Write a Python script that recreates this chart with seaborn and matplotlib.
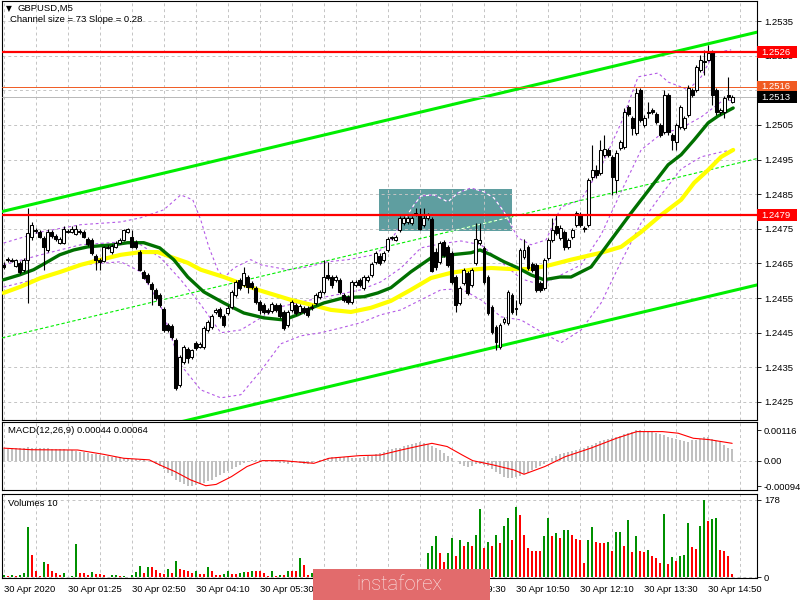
import numpy as np
import matplotlib
matplotlib.use("Agg")
import matplotlib.pyplot as plt
import seaborn as sns
from matplotlib.patches import Rectangle
from matplotlib.transforms import blended_transform_factory

# ---------------- data (GBPUSD, M5, 30 Apr 2020) ----------------
open_price = [
    1.24646, 1.24661, 1.24661, 1.24643, 1.24652, 1.24632, 1.24661, 1.24727, 1.24747, 1.24741,
    1.24724, 1.24689, 1.24741, 1.24730, 1.24710, 1.24710, 1.24744, 1.24741, 1.24736, 1.24744,
    1.24741, 1.24721, 1.24718, 1.24672, 1.24661, 1.24658, 1.24695, 1.24683, 1.24698, 1.24710,
    1.24718, 1.24741, 1.24727, 1.24712, 1.24683, 1.24626, 1.24617, 1.24591, 1.24574, 1.24559,
    1.24519, 1.24473, 1.24470, 1.24430, 1.24299, 1.24366, 1.24404, 1.24380, 1.24421, 1.24409,
    1.24409, 1.24458, 1.24467, 1.24510, 1.24519, 1.24499, 1.24508, 1.24525, 1.24559, 1.24603,
    1.24588, 1.24611, 1.24594, 1.24580, 1.24539, 1.24531, 1.24516, 1.24513, 1.24531, 1.24531,
    1.24510, 1.24473, 1.24516, 1.24531, 1.24510, 1.24522, 1.24522, 1.24522, 1.24536, 1.24554,
    1.24568, 1.24617, 1.24611, 1.24603, 1.24603, 1.24559, 1.24554, 1.24539, 1.24588, 1.24603,
    1.24580, 1.24603, 1.24617, 1.24655, 1.24672, 1.24661, 1.24689, 1.24727, 1.24718, 1.24747,
    1.24767, 1.24770, 1.24767, 1.24790, 1.24790, 1.24762, 1.24782, 1.24779, 1.24683, 1.24655,
    1.24712, 1.24698, 1.24681, 1.24611, 1.24536, 1.24594, 1.24623, 1.24588, 1.24652, 1.24710,
    1.24695, 1.24611, 1.24525, 1.24467, 1.24409, 1.24482, 1.24479, 1.24559, 1.24522, 1.24536,
    1.24669, 1.24698, 1.24649, 1.24646, 1.24594, 1.24580, 1.24666, 1.24718, 1.24759, 1.24724,
    1.24741, 1.24698, 1.24727, 1.24762, 1.24790, 1.24753, 1.24762, 1.24900, 1.24920, 1.24912,
    1.24964, 1.24978, 1.24958, 1.24891, 1.24984, 1.24987, 1.25102, 1.25070, 1.25027, 1.25151,
    1.25050, 1.25088, 1.25093, 1.25082, 1.25050, 1.25030, 1.25137, 1.25021, 1.25001, 1.25044,
    1.25041, 1.25079, 1.25151, 1.25151, 1.25209, 1.25235, 1.25238, 1.25261, 1.25151, 1.25088,
    1.25088, 1.25137, 1.25116]
close_price = [
    1.24640, 1.24664, 1.24658, 1.24661, 1.24626, 1.24661, 1.24739, 1.24762, 1.24744, 1.24727,
    1.24698, 1.24741, 1.24730, 1.24721, 1.24721, 1.24750, 1.24741, 1.24750, 1.24750, 1.24741,
    1.24727, 1.24707, 1.24681, 1.24661, 1.24655, 1.24698, 1.24698, 1.24701, 1.24710, 1.24718,
    1.24747, 1.24750, 1.24698, 1.24698, 1.24632, 1.24609, 1.24597, 1.24577, 1.24551, 1.24531,
    1.24458, 1.24458, 1.24438, 1.24291, 1.24380, 1.24409, 1.24378, 1.24401, 1.24407, 1.24418,
    1.24464, 1.24482, 1.24499, 1.24516, 1.24499, 1.24473, 1.24522, 1.24568, 1.24597, 1.24580,
    1.24623, 1.24583, 1.24583, 1.24539, 1.24516, 1.24510, 1.24510, 1.24533, 1.24516, 1.24499,
    1.24464, 1.24510, 1.24539, 1.24508, 1.24528, 1.24510, 1.24502, 1.24525, 1.24559, 1.24568,
    1.24611, 1.24609, 1.24588, 1.24611, 1.24568, 1.24545, 1.24539, 1.24597, 1.24597, 1.24588,
    1.24611, 1.24611, 1.24649, 1.24681, 1.24652, 1.24681, 1.24721, 1.24724, 1.24727, 1.24782,
    1.24782, 1.24782, 1.24782, 1.24796, 1.24750, 1.24782, 1.24790, 1.24629, 1.24640, 1.24710,
    1.24675, 1.24646, 1.24597, 1.24531, 1.24580, 1.24632, 1.24565, 1.24632, 1.24721, 1.24718,
    1.24597, 1.24508, 1.24452, 1.24424, 1.24473, 1.24490, 1.24568, 1.24510, 1.24519, 1.24689,
    1.24689, 1.24638, 1.24632, 1.24574, 1.24574, 1.24661, 1.24718, 1.24747, 1.24739, 1.24753,
    1.24698, 1.24718, 1.24747, 1.24796, 1.24762, 1.24750, 1.24891, 1.24920, 1.24906, 1.24978,
    1.24981, 1.24964, 1.24900, 1.24969, 1.25001, 1.25088, 1.25082, 1.25041, 1.25142, 1.25065,
    1.25070, 1.25085, 1.25088, 1.25059, 1.25021, 1.25137, 1.25030, 1.25007, 1.25050, 1.25102,
    1.25070, 1.25157, 1.25137, 1.25217, 1.25238, 1.25232, 1.25258, 1.25137, 1.25088, 1.25093,
    1.25128, 1.25131, 1.25131]
high_price = [
    1.24655, 1.24669, 1.24666, 1.24664, 1.24658, 1.24666, 1.24811, 1.24770, 1.24753, 1.24747,
    1.24730, 1.24750, 1.24747, 1.24736, 1.24727, 1.24759, 1.24750, 1.24759, 1.24762, 1.24750,
    1.24747, 1.24727, 1.24724, 1.24678, 1.24666, 1.24701, 1.24704, 1.24707, 1.24715, 1.24724,
    1.24750, 1.24753, 1.24747, 1.24718, 1.24689, 1.24632, 1.24623, 1.24597, 1.24580, 1.24565,
    1.24525, 1.24479, 1.24476, 1.24435, 1.24386, 1.24415, 1.24409, 1.24404, 1.24427, 1.24424,
    1.24470, 1.24487, 1.24505, 1.24522, 1.24525, 1.24505, 1.24531, 1.24574, 1.24603, 1.24609,
    1.24640, 1.24617, 1.24600, 1.24586, 1.24545, 1.24536, 1.24522, 1.24539, 1.24536, 1.24536,
    1.24516, 1.24516, 1.24545, 1.24536, 1.24533, 1.24528, 1.24528, 1.24533, 1.24565, 1.24574,
    1.24661, 1.24655, 1.24617, 1.24617, 1.24609, 1.24565, 1.24559, 1.24603, 1.24603, 1.24609,
    1.24617, 1.24617, 1.24655, 1.24687, 1.24681, 1.24687, 1.24727, 1.24730, 1.24733, 1.24787,
    1.24787, 1.24787, 1.24787, 1.24811, 1.24811, 1.24811, 1.24796, 1.24785, 1.24695, 1.24715,
    1.24718, 1.24704, 1.24687, 1.24617, 1.24586, 1.24638, 1.24629, 1.24638, 1.24767, 1.24767,
    1.24701, 1.24617, 1.24531, 1.24473, 1.24479, 1.24496, 1.24574, 1.24565, 1.24545, 1.24695,
    1.24721, 1.24704, 1.24655, 1.24652, 1.24600, 1.24666, 1.24724, 1.24782, 1.24790, 1.24762,
    1.24747, 1.24724, 1.24753, 1.24802, 1.24799, 1.24759, 1.24897, 1.24992, 1.24935, 1.25007,
    1.25021, 1.24984, 1.24964, 1.24978, 1.25007, 1.25099, 1.25108, 1.25076, 1.25157, 1.25157,
    1.25079, 1.25116, 1.25099, 1.25088, 1.25056, 1.25151, 1.25142, 1.25027, 1.25056, 1.25108,
    1.25076, 1.25166, 1.25157, 1.25223, 1.25252, 1.25267, 1.25281, 1.25267, 1.25157, 1.25099,
    1.25134, 1.25189, 1.25137]
low_price = [
    1.24634, 1.24655, 1.24655, 1.24640, 1.24620, 1.24626, 1.24536, 1.24718, 1.24739, 1.24724,
    1.24632, 1.24683, 1.24724, 1.24715, 1.24707, 1.24707, 1.24739, 1.24739, 1.24733, 1.24736,
    1.24724, 1.24701, 1.24675, 1.24632, 1.24632, 1.24655, 1.24692, 1.24678, 1.24695, 1.24707,
    1.24715, 1.24739, 1.24695, 1.24692, 1.24629, 1.24606, 1.24591, 1.24531, 1.24545, 1.24525,
    1.24452, 1.24452, 1.24432, 1.24285, 1.24293, 1.24360, 1.24363, 1.24375, 1.24401, 1.24407,
    1.24404, 1.24452, 1.24461, 1.24505, 1.24493, 1.24467, 1.24502, 1.24519, 1.24554, 1.24574,
    1.24583, 1.24565, 1.24577, 1.24533, 1.24505, 1.24505, 1.24505, 1.24508, 1.24510, 1.24493,
    1.24458, 1.24467, 1.24510, 1.24502, 1.24505, 1.24505, 1.24496, 1.24516, 1.24531, 1.24548,
    1.24562, 1.24603, 1.24580, 1.24597, 1.24562, 1.24539, 1.24533, 1.24533, 1.24583, 1.24583,
    1.24574, 1.24597, 1.24611, 1.24649, 1.24646, 1.24655, 1.24683, 1.24718, 1.24715, 1.24741,
    1.24762, 1.24764, 1.24762, 1.24787, 1.24747, 1.24756, 1.24776, 1.24626, 1.24632, 1.24649,
    1.24669, 1.24640, 1.24591, 1.24510, 1.24531, 1.24588, 1.24559, 1.24583, 1.24646, 1.24704,
    1.24591, 1.24502, 1.24447, 1.24401, 1.24404, 1.24476, 1.24473, 1.24505, 1.24502, 1.24531,
    1.24664, 1.24632, 1.24626, 1.24568, 1.24568, 1.24574, 1.24661, 1.24712, 1.24733, 1.24718,
    1.24689, 1.24692, 1.24721, 1.24756, 1.24756, 1.24741, 1.24756, 1.24891, 1.24897, 1.24906,
    1.24958, 1.24958, 1.24848, 1.24854, 1.24978, 1.24981, 1.25076, 1.25021, 1.25021, 1.25059,
    1.25044, 1.25070, 1.25082, 1.25053, 1.25015, 1.25024, 1.25021, 1.24978, 1.24978, 1.25038,
    1.25036, 1.25073, 1.25131, 1.25145, 1.25203, 1.25194, 1.25235, 1.25108, 1.25079, 1.25079,
    1.25070, 1.25122, 1.25113]

volumes = [
    5, 3, 5, 3, 5, 9, 115, 52, 15, 2, 34, 31, 13, 9, 5, 9, 1, 2, 77, 9,
    9, 5, 12, 8, 8, 5, 1, 4, 5, 2, 3, 1, 4, 12, 25, 9, 22, 22, 17, 9,
    8, 19, 9, 38, 18, 17, 13, 9, 13, 8, 8, 23, 13, 5, 5, 7, 13, 8, 8, 9,
    11, 11, 13, 13, 13, 9, 3, 13, 3, 5, 5, 13, 13, 13, 44, 28, 5,
    9, 12, 8, 16, 12, 10, 8, 11, 9, 10, 14, 9, 8, 12, 10, 15, 13, 9, 11, 14,
    8, 12, 16, 10, 9, 14, 17, 12, 15,
    55, 71, 94, 55, 34, 55, 90, 48, 86, 71, 80, 71, 98, 158, 67, 82, 72, 98, 79, 117,
    136, 86, 162, 144, 98, 67, 59, 59, 59, 95, 136, 95, 102, 90, 108, 109, 98, 88, 86, 32,
    86, 115, 82, 79, 79, 82, 59, 104, 105, 72, 131, 57, 94, 59, 57, 63, 48, 44, 32, 146,
    31, 46, 36, 48, 52, 125, 69, 65, 119, 178, 129, 134, 137, 63, 59, 49, 8]

macd_main = [
    0.00045, 0.00046, 0.00048, 0.00049, 0.00050, 0.00050, 0.00052, 0.00050, 0.00050, 0.00049,
    0.00048, 0.00047, 0.00046, 0.00046, 0.00045, 0.00043, 0.00042, 0.00040, 0.00037, 0.00035,
    0.00032, 0.00030, 0.00027, 0.00025, 0.00022, 0.00020, 0.00018, 0.00016, 0.00015, 0.00013,
    0.00011, 0.00010, 0.00008, 0.00007, 0.00005, 0.00003, 0.00001, -0.00005, -0.00012, -0.00020,
    -0.00032, -0.00045, -0.00057, -0.00070, -0.00080, -0.00088, -0.00094, -0.00093, -0.00090, -0.00087,
    -0.00082, -0.00077, -0.00070, -0.00060, -0.00053, -0.00045, -0.00037, -0.00030, -0.00022, -0.00015,
    -0.00008, -0.00003, 0.00002, 0.00005, 0.00004, 0.00002, 0.00000, -0.00002, -0.00004, -0.00006,
    -0.00009, -0.00010, -0.00007, -0.00005, -0.00007, -0.00010, -0.00010, -0.00006, -0.00002, 0.00003,
    0.00008, 0.00010, 0.00013, 0.00015, 0.00015, 0.00014, 0.00014, 0.00012, 0.00011, 0.00010,
    0.00013, 0.00017, 0.00020, 0.00025, 0.00030, 0.00034, 0.00040, 0.00043, 0.00047, 0.00050,
    0.00055, 0.00060, 0.00063, 0.00066, 0.00070, 0.00068, 0.00062, 0.00057, 0.00048, 0.00040,
    0.00030, 0.00020, 0.00010, 0.00000, -0.00012, -0.00020, -0.00022, -0.00020, -0.00012, -0.00010,
    -0.00015, -0.00020, -0.00030, -0.00040, -0.00050, -0.00060, -0.00063, -0.00065, -0.00060, -0.00055,
    -0.00050, -0.00045, -0.00035, -0.00028, -0.00020, -0.00010, 0.00000, 0.00010, 0.00020, 0.00025,
    0.00030, 0.00033, 0.00037, 0.00040, 0.00043, 0.00048, 0.00055, 0.00060, 0.00068, 0.00073,
    0.00080, 0.00083, 0.00087, 0.00090, 0.00095, 0.00100, 0.00105, 0.00110, 0.00115, 0.00116,
    0.00114, 0.00112, 0.00110, 0.00104, 0.00100, 0.00096, 0.00090, 0.00087, 0.00082, 0.00078,
    0.00074, 0.00072, 0.00077, 0.00080, 0.00083, 0.00088, 0.00090, 0.00082, 0.00075, 0.00070,
    0.00058, 0.00050, 0.00044]

signal_bars = [0, 7, 18.5, 24.9, 30, 36.4, 39, 42.8, 46.7, 50.5,
               53.1, 56.9, 60.8, 64.6, 69.8, 77.5, 81.3, 89, 94.1, 99.3,
               104.4, 107, 110.8, 114.6, 117.2, 122.3, 127.5, 130, 135.2, 140.3,
               146.7, 153.1, 158.2, 164.6, 168.5, 172.3, 176.2, 182]
signal_vals = [0.00048, 0.00042, 0.00041, 0.00025, 0.00010, 0.00004, -0.00015, -0.00040, -0.00071, -0.00093,
               -0.00088, -0.00059, -0.00021, 0.00001, 0.00001, -0.00009, 0.00010, 0.00020, 0.00022, 0.00041,
               0.00058, 0.00066, 0.00054, 0.00022, 0.00001, -0.00015, -0.00034, -0.00050, -0.00021, 0.00016,
               0.00048, 0.00085, 0.00110, 0.00110, 0.00104, 0.00085, 0.00080, 0.00066]

ma_green_bars = [0, 4, 7.5, 11, 14, 17.5, 21, 24, 27.5, 31,
                 35, 39, 42.5, 46, 50, 55, 60, 65, 70, 73.5,
                 77, 80, 85, 90, 93.5, 96.75, 101.75, 106.75, 111.75, 116.75,
                 119, 121.75, 125, 128.5, 131.75, 135, 139, 141.75, 146.75, 151.75,
                 156.75, 161.75, 166, 169.25, 172.5, 176, 178.5, 182.25]
ma_green_vals = [1.24603, 1.24617, 1.24632, 1.24655, 1.24675, 1.24689, 1.24698, 1.24701, 1.24704, 1.24710,
                 1.24710, 1.24695, 1.24661, 1.24611, 1.24568, 1.24536, 1.24507, 1.24493, 1.24487, 1.24502,
                 1.24522, 1.24536, 1.24551, 1.24554, 1.24565, 1.24580, 1.24626, 1.24666, 1.24675, 1.24681,
                 1.24689, 1.24675, 1.24655, 1.24637, 1.24617, 1.24603, 1.24611, 1.24611, 1.24640, 1.24718,
                 1.24796, 1.24871, 1.24935, 1.24964, 1.25007, 1.25056, 1.25076, 1.25099]

ma_yellow_bars = [0, 4.25, 9.25, 14.25, 19.25, 24.25, 29.25, 34.25, 38.5, 41.75,
                  46, 49.25, 55, 63.5, 71.75, 76.75, 81.75, 86.75, 91.75, 96.75,
                  101.75, 106.75, 111.75, 116.75, 121.75, 126.75, 131.75, 136.75, 141.75, 149.25,
                  154.25, 159.25, 164.25, 169.25, 172.5, 176, 179.25, 182.25]
ma_yellow_vals = [1.24565, 1.24583, 1.24608, 1.24626, 1.24646, 1.24661, 1.24675, 1.24683, 1.24683, 1.24669,
                  1.24652, 1.24632, 1.24611, 1.24574, 1.24545, 1.24531, 1.24516, 1.24510, 1.24522, 1.24542,
                  1.24574, 1.24608, 1.24623, 1.24632, 1.24637, 1.24634, 1.24634, 1.24646, 1.24661, 1.24681,
                  1.24698, 1.24741, 1.24790, 1.24834, 1.24883, 1.24920, 1.24958, 1.24978]

bb_upper_bars = [0, 9.25, 19.25, 29.25, 34.25, 40, 44.25, 47.25, 49.25, 51.25,
                 53.5, 55, 57.5, 61.75, 64.25, 71, 76, 81, 86, 92.5,
                 96, 99.25, 102.5, 104.25, 107.5, 111, 113.5, 116.75, 120, 122.5,
                 125, 128.5, 131.75, 135.5, 139.25, 144.25, 149.25, 154.25, 158.5, 163.5,
                 166, 169.25, 171, 174.25, 177.5, 181.75]
bb_upper_vals = [1.24709, 1.24741, 1.24762, 1.24770, 1.24782, 1.24805, 1.24848, 1.24834, 1.24776, 1.24698,
                 1.24632, 1.24608, 1.24637, 1.24661, 1.24646, 1.24632, 1.24640, 1.24655, 1.24661, 1.24675,
                 1.24704, 1.24762, 1.24819, 1.24845, 1.24848, 1.24828, 1.24854, 1.24868, 1.24857, 1.24839,
                 1.24799, 1.24724, 1.24704, 1.24718, 1.24813, 1.24834, 1.24929, 1.25056, 1.25189, 1.25200,
                 1.25174, 1.25160, 1.25151, 1.25189, 1.25258, 1.25267]

bb_bars = [0, 9.25, 19.25, 29.25, 34.25, 39.25, 44.25, 49.25, 54.25, 59.25,
           64.25, 69.25, 74.25, 79.25, 84.25, 89.25, 94.25, 99.25, 104.25, 109.25,
           114.25, 119.25, 124.25, 129.25, 134.25, 139.25, 144.25, 149.25, 154.25, 159.25,
           164.25, 169.25, 174.25, 179.25, 182.25]
bb_middle_vals = [1.24646, 1.24675, 1.24704, 1.24712, 1.24704, 1.24666, 1.24603, 1.24531, 1.24450, 1.24458,
                  1.24493, 1.24525, 1.24539, 1.24551, 1.24562, 1.24574, 1.24597, 1.24637, 1.24695, 1.24707,
                  1.24715, 1.24704, 1.24655, 1.24606, 1.24588, 1.24617, 1.24646, 1.24733, 1.24857, 1.24978,
                  1.25024, 1.25041, 1.25073, 1.25117, 1.25122]
bb_lower_vals = [1.24582, 1.24608, 1.24646, 1.24655, 1.24626, 1.24528, 1.24357, 1.24285, 1.24262, 1.24271,
                 1.24340, 1.24418, 1.24441, 1.24450, 1.24464, 1.24479, 1.24502, 1.24516, 1.24545, 1.24574,
                 1.24577, 1.24545, 1.24496, 1.24487, 1.24453, 1.24421, 1.24458, 1.24536, 1.24655, 1.24767,
                 1.24848, 1.24923, 1.24958, 1.24972, 1.24978]

channel_bars = [-0.4, 188.2]
channel_upper = [1.24800, 1.25318]
channel_size = 0.0073          # "Channel size = 73"

zone_bars = [93.75, 127.0]
zone_prices = [1.24744, 1.24865]

level_lines = [1.2526, 1.2479]
ask_price = 1.2516
bid_price = 1.2513

price_ticks = [1.2425, 1.2435, 1.2445, 1.2455, 1.2465, 1.2475, 1.2485, 1.2495, 1.2505, 1.2515, 1.2525, 1.2535]
hidden_price_ticks = [1.2515]   # covered by the ask/bid boxes in the reference
macd_ticks = [-0.00094, 0.0, 0.00116]
macd_tick_labels = ["-0.00094", "0.00", "0.00116"]
volume_ticks = [0, 178]
time_tick_bars = [0, 16, 32, 48, 64, 80, 96, 112, 128, 144, 160, 176]
time_labels = ["30 Apr 2020", "30 Apr 01:25", "30 Apr 02:50", "30 Apr 04:10", "30 Apr 05:30",
               "", "", "30 Apr 09:30", "30 Apr 10:50", "30 Apr 12:10",
               "30 Apr 13:30", "30 Apr 14:50"]   # 06:50 and 08:10 sit under the watermark

# ---------------- style ----------------
sns.set_theme(style="white")
plt.rcParams['font.family'] = ['Liberation Sans', 'DejaVu Sans']
FS = 6.8
GRID = dict(color='#c4c4c4', linestyle=(0, (3, 3)), linewidth=0.7)
XLIM = (-0.4, 188.2)

fig = plt.figure(figsize=(8, 6), dpi=100)
fig.patch.set_facecolor('white')
ax = fig.add_axes([2 / 800, 1 - 420 / 600, 755 / 800, 419 / 600])
axm = fig.add_axes([2 / 800, 1 - 490 / 600, 755 / 800, 68 / 600])
axv = fig.add_axes([2 / 800, 1 - 578 / 600, 755 / 800, 84 / 600])

for a in (ax, axm, axv):
    a.set_facecolor('white')
    for s in a.spines.values():
        s.set_color('black')
        s.set_linewidth(0.8)
    a.set_xlim(*XLIM)
    a.yaxis.tick_right()
    a.tick_params(axis='y', length=3, width=0.6, pad=2, labelsize=FS, colors='black', direction='out')
    a.set_axisbelow(True)

x = np.arange(len(close_price))
o = np.array(open_price); c = np.array(close_price)
h = np.array(high_price); l = np.array(low_price)

# ---------------- main price panel ----------------
ax.set_ylim(1.24198, 1.25408)
ax.set_yticks(price_ticks)
ax.set_yticklabels(["" if t in hidden_price_ticks else f"{t:.4f}" for t in price_ticks])
ax.set_xticks(np.arange(0, 189, 8))
ax.tick_params(axis='x', length=0, labelbottom=False)
ax.grid(True, **GRID)

zone = Rectangle((zone_bars[0], zone_prices[0]), zone_bars[1] - zone_bars[0],
                 zone_prices[1] - zone_prices[0], facecolor='#5f9ea0', edgecolor='none', zorder=0.2)
ax.add_patch(zone)

# regression channel
ch_up = np.array(channel_upper)
for vals, lw, ls in ((ch_up, 2.2, '-'), (ch_up - channel_size, 2.2, '-'),
                     (ch_up - channel_size / 2, 0.8, (0, (3, 2)))):
    sns.lineplot(x=channel_bars, y=vals, ax=ax, color='#00ee00', linewidth=lw,
                 linestyle=ls, estimator=None, sort=False, legend=False, zorder=2.7)
    if ls != '-':
        sns.lineplot(x=channel_bars, y=vals, ax=ax, color='white', linewidth=lw,
                     linestyle=ls, estimator=None, sort=False, legend=False, zorder=2.75)
        ax.lines[-1].set_clip_path(zone)

# Bollinger bands
for bx, by in ((bb_upper_bars, bb_upper_vals), (bb_bars, bb_middle_vals), (bb_bars, bb_lower_vals)):
    sns.lineplot(x=bx, y=by, ax=ax, color='#b45ae6', linewidth=0.8, linestyle=(0, (2.5, 2.5)),
                 estimator=None, sort=False, legend=False, zorder=2.6)
    sns.lineplot(x=bx, y=by, ax=ax, color='white', linewidth=0.9, linestyle=(0, (2.5, 2.5)),
                 estimator=None, sort=False, legend=False, zorder=2.65)
    ax.lines[-1].set_clip_path(zone)

# moving averages
sns.lineplot(x=ma_yellow_bars, y=ma_yellow_vals, ax=ax, color='#ffff00', linewidth=3.0,
             estimator=None, sort=False, legend=False, zorder=3)
sns.lineplot(x=ma_green_bars, y=ma_green_vals, ax=ax, color='#007000', linewidth=2.4,
             estimator=None, sort=False, legend=False, zorder=3.1)

# ask / bid lines
ax.axhline(ask_price, color='#f05a22', linewidth=0.7, zorder=3.2)
ax.axhline(bid_price, color='#b8b8b8', linewidth=0.7, zorder=3.2)

# candles
up = c >= o
ax.vlines(x, l, h, color='black', linewidth=0.8, zorder=4)
ax.bar(x, np.maximum(np.abs(c - o), 0.000004), bottom=np.minimum(o, c), width=0.74,
       color=np.where(up, 'white', 'black'), edgecolor='black', linewidth=0.75, zorder=5)

# horizontal levels
for lv in level_lines:
    ax.axhline(lv, color='#ff0000', linewidth=1.6, zorder=6)

ax.set_xlabel(''); ax.set_ylabel('')

# right-side price boxes
tr = blended_transform_factory(ax.transAxes, ax.transData)
hh = 0.000172
for price, col in ((level_lines[0], '#ff0000'), (level_lines[1], '#ff0000'),
                   (ask_price, '#f05a22'), (bid_price, '#000000')):
    ax.add_patch(Rectangle((1.0, price - hh), 0.053, 2 * hh, transform=tr, facecolor=col,
                           edgecolor='none', clip_on=False, zorder=10))
    ax.text(1.0 + 4 / 755, price, f"{price:.4f}", transform=tr, ha='left', va='center',
            color='white', fontsize=FS, zorder=11, clip_on=False)

ax.text(0.005, 0.983, "\u25bc", transform=ax.transAxes, ha='left', va='center', fontsize=5.5,
        color='black', family=['DejaVu Sans'])
ax.text(0.0205, 0.983, "GBPUSD,M5", transform=ax.transAxes, ha='left', va='center',
        fontsize=FS, color='black')
ax.text(0.0106, 0.955, "Channel size = 73 Slope = 0.28", transform=ax.transAxes, ha='left',
        va='center', fontsize=FS, color='black')

# ---------------- MACD panel ----------------
axm.bar(x, macd_main, width=0.55, color='#c0c0c0', linewidth=0, zorder=2)
sns.lineplot(x=signal_bars, y=signal_vals, ax=axm, color='#ff0000', linewidth=0.8,
             estimator=None, sort=False, legend=False, zorder=3)
axm.set_ylim(-0.00109, 0.00146)
axm.set_yticks(macd_ticks)
axm.set_yticklabels(macd_tick_labels)
axm.set_xticks(np.arange(0, 189, 8))
axm.tick_params(axis='x', length=0, labelbottom=False)
axm.grid(True, axis='x', **GRID)
axm.axhline(0, zorder=0.5, **GRID)
axm.set_xlabel(''); axm.set_ylabel('')
axm.text(0.008, 0.87, "MACD(12,26,9) 0.00044 0.00064", transform=axm.transAxes, ha='left',
         va='center', fontsize=FS, color='black')

# ---------------- Volumes panel ----------------
vol = np.array(volumes)
vol_colors = ['#009000'] + ['#009000' if vol[i] > vol[i - 1] else '#ff0000' for i in range(1, len(vol))]
axv.bar(x, vol, width=0.55, color=vol_colors, linewidth=0, zorder=3)
axv.set_ylim(-2.3, 191.8)
axv.set_yticks(volume_ticks)
axv.set_yticklabels([str(v) for v in volume_ticks])
axv.set_xticks(time_tick_bars)
axv.set_xticklabels(time_labels)
axv.set_xticks(np.arange(8, 189, 16), minor=True)
axv.tick_params(axis='x', which='major', length=3, width=0.6, pad=2, labelsize=FS,
                colors='black', direction='out')
axv.tick_params(axis='x', which='minor', length=0)
for lbl in axv.get_xticklabels():
    lbl.set_horizontalalignment('left')
axv.grid(True, axis='x', which='both', **GRID)
axv.grid(True, axis='y', **GRID)
axv.set_xlabel(''); axv.set_ylabel('')
axv.text(0.008, 0.89, "Volumes 10", transform=axv.transAxes, ha='left', va='center',
         fontsize=FS, color='black')

# ---------------- watermark logo ----------------
fig.add_artist(Rectangle((313 / 800, 0), 177 / 800, 31 / 600, transform=fig.transFigure,
                         facecolor='#e26b6c', edgecolor='none', zorder=20))
fig.text(400 / 800, 1 - 584 / 600, "instaforex", ha='center', va='center', color='#fbeaea',
         fontsize=14.5, family=['Roboto', 'DejaVu Sans'], fontweight='light', zorder=21)

fig.savefig("out.png", dpi=100, facecolor='white')
